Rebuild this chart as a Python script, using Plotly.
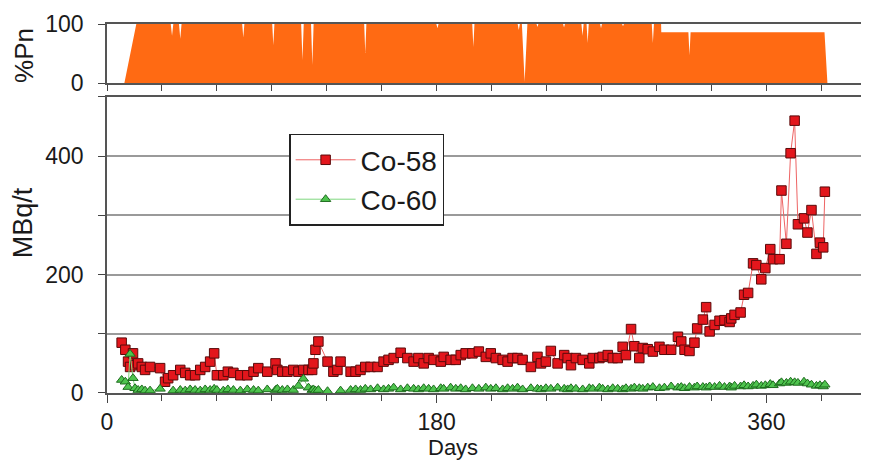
import plotly.graph_objects as go

# ---- data ----
pn_days = [0, 9.5, 16, 34.8, 35.5, 36.2, 39.3, 40, 40.7, 73.8, 74.4, 75,
           90.2, 90.8, 91.4, 106, 106.7, 107.4, 111.4, 112.1, 112.8,
           140.4, 141, 141.6, 179.8, 180.4, 181, 199.4, 200, 200.6,
           224.2, 224.8, 225.4, 226.5, 228, 229.5, 234.5, 235, 235.5,
           249, 249.5, 250, 259, 259.6, 260.2, 261.8, 262.4, 263,
           269.2, 269.7, 270.2, 281.2, 281.7, 282.2, 297.4, 298, 298.6,
           302.5, 302.6, 317.4, 318, 318.6, 391.7, 393.3]
pn_vals = [0, 0, 100, 100, 80, 100, 100, 75, 100, 100, 77, 100,
           100, 64, 100, 100, 39, 100, 100, 31, 100,
           100, 51, 100, 100, 93, 100, 100, 61, 100,
           100, 90, 100, 100, 2, 100, 100, 95, 100,
           100, 94, 100, 100, 80, 100, 100, 68, 100,
           100, 93, 100, 100, 96, 100, 100, 68, 100,
           100, 86, 86, 47, 86, 86, 0]

days = [8, 10, 11.5, 12.6, 14.2, 15.3, 17, 19, 20.8, 23.5,
        29, 31.7, 33.4, 36.1, 40, 42.7, 45.4, 48.1, 50.9, 53.6,
        56.3, 58.5, 60, 63.5, 66, 69, 72.8, 76.6, 80, 82.6,
        87.5, 92, 93, 95.7, 98.5, 101.7, 104.5, 107.2, 110, 112,
        112.7, 113.8, 115.4, 120.4, 123.6, 125.8, 127.5, 133, 135.7, 138.4,
        141, 143.9, 147.7, 151, 153.7, 156.5, 160.3, 164, 167.4, 170,
        172.9, 175.6, 178.3, 182.2, 183.8, 187.6, 190.4, 193.1, 195.8, 199.5,
        203, 206.8, 209.5, 212.3, 216, 218.7, 221.4, 224.1, 226.9, 231.4,
        235, 236.9, 239.6, 242.3, 246, 249.6, 251.5, 253.3, 256, 259.7,
        263.3, 265.2, 268.8, 270.6, 273.4, 276.1, 278.8, 281.5, 283.3, 286.1,
        287.9, 290.6, 292.5, 295.2, 298, 301.6, 304.3, 308, 311.7, 313.5,
        315.3, 318, 320.7, 322.2, 325.3, 327.1, 329, 331.7, 334.4, 337.1,
        339.9, 340.8, 342.6, 345.9, 347.8, 350, 352.7, 354.5, 357.2, 359.4,
        362.1, 363.6, 367.2, 368.2, 370.9, 373.2, 375.4, 377.2, 380.5, 382.4,
        384.6, 387.3, 389.2, 391, 391.9]

co58 = [85, 73, 53, 44, 67, 47, 50, 44, 39, 44,
        42, 19, 25, 30, 39, 34, 30, 30, 39, 44,
        53, 67, 30, 30, 36, 34, 30, 30, 36, 42,
        36, 50, 39, 36, 36, 39, 36, 39, 39, 39,
        50, 73, 87, 53, 36, 39, 53, 36, 36, 39,
        44, 44, 44, 53, 56, 59, 68, 59, 53, 59,
        50, 59, 56, 53, 61, 56, 56, 64, 67, 67,
        70, 61, 67, 59, 56, 53, 59, 59, 56, 44,
        61, 50, 53, 71, 50, 64, 59, 47, 59, 56,
        50, 59, 59, 61, 64, 59, 59, 78, 64, 108,
        79, 59, 76, 74, 70, 78, 73, 73, 95, 87,
        73, 71, 85, 109, 124, 145, 104, 115, 122, 123,
        120, 126, 132, 136, 166, 169, 219, 216, 192, 211,
        243, 226, 226, 342, 252, 405, 460, 285, 295, 271,
        309, 235, 254, 246, 340]

co60 = [22, 19, 10, 66, 25, 8, 5, 6, 4, 4,
        7, None, None, 4, 5, 4, 6, 5, 4, 6,
        5, 7, 5, 4, 6, 5, 4, 6, 5, 4,
        6, 5, 7, 5, 6, 5, 12, 24, 9, 5,
        6, 4, 5, 3, None, None, 4, 5, 6, 5,
        7, 6, 8, 6, 7, 9, 6, 8, 7, 6,
        8, 7, 6, 8, 7, 9, 7, 8, 6, 8,
        7, 9, 7, 8, 6, 8, 7, 9, 6, 8,
        7, 6, 8, 7, 9, 7, 6, 8, 7, 6,
        8, 7, 9, 7, 6, 8, 7, 6, 8, 7,
        9, 8, 7, 9, 10, 8, 9, 11, 9, 10,
        8, 10, 9, 11, 10, 9, 11, 10, 12, 10,
        11, 9, 12, 11, 13, 11, 12, 14, 12, 13,
        15, 13, 16, 18, 17, 19, 18, 17, 19, 16,
        14, 12, 13, 11, 14]

x_ticks_minor = [0, 30, 60, 90, 120, 150, 180, 210, 240, 270, 300, 330, 360, 390]
x_labels = [0, 180, 360]
y_ticks = [0, 100, 200, 300, 400, 500]
y_text = ["0", "", "200", "", "400", ""]

FONT = "Liberation Sans, Arial, sans-serif"
TXT = "#1a1a1a"

fig = go.Figure()

fig.add_trace(go.Scatter(
    x=pn_days, y=pn_vals, xaxis="x2", yaxis="y2", mode="lines",
    line=dict(width=0, color="#FF6A13"), fill="tozeroy",
    fillcolor="#FF6A13", showlegend=False, hoverinfo="skip"))

fig.add_trace(go.Scatter(
    x=days, y=co58, name="Co-58", mode="lines+markers",
    line=dict(color="#EE6464", width=1),
    marker=dict(symbol="square", size=9.5, color="#E3161C",
                line=dict(color="#5A0A0A", width=1))))

fig.add_trace(go.Scatter(
    x=days, y=co60, name="Co-60", mode="lines+markers",
    line=dict(color="#7FD77F", width=1),
    marker=dict(symbol="triangle-up", size=9, color="#4EC44E",
                line=dict(color="#1E6B1E", width=1))))

common_x = dict(range=[0, 416], showgrid=False, zeroline=False,
                showline=True, mirror=True, linecolor="#555", linewidth=1.5,
                ticks="outside", tickcolor="#444", tickwidth=1.2)

fig.update_layout(
    width=861, height=453,
    margin=dict(l=99, r=0, t=16, b=68),
    paper_bgcolor="white", plot_bgcolor="white",
    font=dict(family=FONT, color=TXT),
    xaxis=dict(**common_x, domain=[0, 1], anchor="y",
               tickvals=x_labels, ticklen=8,
               tickfont=dict(size=23, family=FONT, color=TXT),
               minor=dict(tickvals=x_ticks_minor, ticks="outside", ticklen=6,
                          tickcolor="#444", showgrid=False)),
    xaxis2=dict(**common_x, domain=[0, 1], anchor="y2",
                tickvals=x_ticks_minor, ticklen=6, showticklabels=False),
    yaxis=dict(domain=[0, 0.8022], range=[0, 500], anchor="x",
               tickvals=y_ticks, ticktext=y_text,
               ticks="outside", ticklen=7, tickcolor="#444",
               ticklabelstandoff=10,
               showgrid=True, gridcolor="#9a9a9a", gridwidth=1.5,
               zeroline=False, showline=True, linecolor="#555", linewidth=1.5,
               tickfont=dict(size=23, family=FONT, color=TXT)),
    yaxis2=dict(domain=[0.8401, 1], range=[0, 100], anchor="x2",
                tickvals=[0, 100], ticks="outside", ticklen=7, tickcolor="#444",
                ticklabelstandoff=10,
                showgrid=False, zeroline=False, showline=True,
                linecolor="#555", linewidth=1.5,
                tickfont=dict(size=23, family=FONT, color=TXT)),
    legend=dict(x=0.239, y=0.703, xanchor="left", yanchor="top",
                bgcolor="white", bordercolor="#222", borderwidth=1.5,
                font=dict(size=28, family=FONT, color=TXT),
                itemwidth=60, tracegroupgap=0),
    annotations=[
        dict(text="MBq/t", xref="paper", yref="paper", x=-0.110, y=0.4607,
             textangle=-90, showarrow=False, xanchor="center", yanchor="middle",
             font=dict(size=27, family=FONT, color=TXT)),
        dict(text="%Pn", xref="paper", yref="paper", x=-0.109, y=0.916,
             textangle=-90, showarrow=False, xanchor="center", yanchor="middle",
             font=dict(size=26, family=FONT, color=TXT)),
        dict(text="Days", xref="paper", yref="paper", x=0.454, y=-0.148,
             showarrow=False, xanchor="center", yanchor="middle",
             font=dict(size=22, family=FONT, color=TXT)),
    ],
)

fig.write_html("out.html")
